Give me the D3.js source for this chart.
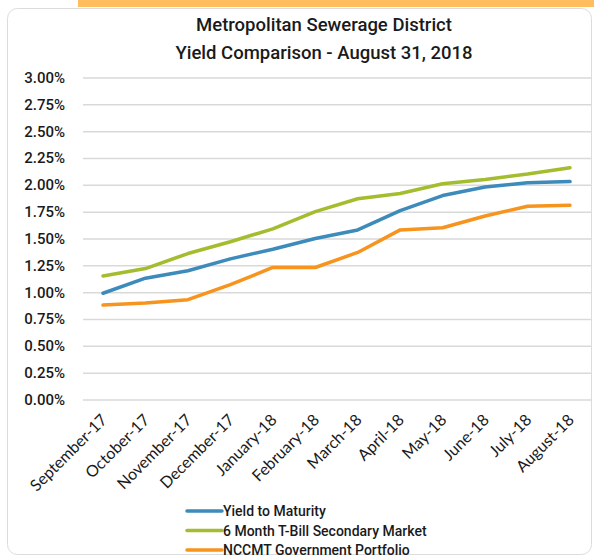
<!DOCTYPE html>
<html>
<head>
<meta charset="utf-8" />
<title>Yield Comparison</title>
<style>
  body { margin: 0; background: #fff; }
  svg text { font-family: Roboto, "Liberation Sans", sans-serif; fill: #1a1a1a; }
  .grid line { stroke: #d9d9d9; stroke-width: 1.5; }
  .grid path { display: none; }
</style>
</head>
<body>
<svg width="594" height="558"></svg>
<script src="https://cdn.jsdelivr.net/npm/d3@7"></script>
<script>

var months = ["September-17", "October-17", "November-17", "December-17", "January-18", "February-18",
              "March-18", "April-18", "May-18", "June-18", "July-18", "August-18"];

var yieldToMaturity = [0.99, 1.13, 1.20, 1.31, 1.40, 1.50, 1.58, 1.76, 1.90, 1.98, 2.02, 2.03];
var tBill6Month     = [1.15, 1.22, 1.36, 1.47, 1.59, 1.75, 1.87, 1.92, 2.01, 2.05, 2.10, 2.16];
var nccmtGov        = [0.88, 0.90, 0.93, 1.07, 1.23, 1.23, 1.37, 1.58, 1.60, 1.71, 1.80, 1.81];

var yTicks = [0, 0.25, 0.5, 0.75, 1, 1.25, 1.5, 1.75, 2, 2.25, 2.5, 2.75, 3];

var seriesNames = ["Yield to Maturity", "6 Month T-Bill Secondary Market", "NCCMT Government Portfolio"];
var seriesColors = ["#3d8bbb", "#a3bd2f", "#f7941d"];

var series = [yieldToMaturity, tBill6Month, nccmtGov].map(function(vals, i) {
  return { name: seriesNames[i], color: seriesColors[i], values: vals };
});

var svg = d3.select("svg");

// orange strip on top + card outline
svg.append("rect").attr("x", 78).attr("y", 0).attr("width", 516).attr("height", 7).attr("fill", "#ffbd5e");
svg.append("rect").attr("x", 7.5).attr("y", 8.5).attr("width", 584).attr("height", 546)
    .attr("rx", 10).attr("fill", "#fff").attr("stroke", "#dcdcdc").attr("stroke-width", 1);

var x = d3.scalePoint().domain(months).range([103, 570]),
    y = d3.scaleLinear().domain([0, 3]).range([399.5, 77.5]);

// title
svg.append("text").attr("x", 324).attr("y", 31).attr("text-anchor", "middle")
    .style("font-size", "18.5px").style("font-weight", 500).text("Metropolitan Sewerage District");
svg.append("text").attr("x", 324).attr("y", 59).attr("text-anchor", "middle")
    .style("font-size", "18.5px").style("font-weight", 500).text("Yield Comparison - August 31, 2018");

// gridlines
svg.append("g").attr("class", "grid")
    .attr("transform", "translate(83,0)")
    .call(d3.axisLeft(y).tickValues(yTicks).tickSize(-508).tickFormat(""));

// y labels
svg.append("g").selectAll("text")
  .data(yTicks)
  .enter().append("text")
    .attr("x", 65)
    .attr("y", function(d) { return y(d); })
    .attr("dy", "0.36em")
    .attr("text-anchor", "end")
    .style("font-size", "15px")
    .style("font-weight", 500)
    .text(function(d) { return d.toFixed(2) + "%"; });

// x labels
svg.append("g").selectAll("text")
  .data(months)
  .enter().append("text")
    .attr("transform", function(d) { return "translate(" + (x(d) + 5) + ",421) rotate(-45)"; })
    .attr("text-anchor", "end")
    .style("font-family", "Lato, sans-serif")
    .style("font-size", "16px")
    .text(function(d) { return d; });

// lines
var line = d3.line()
    .x(function(d, i) { return x(months[i]); })
    .y(function(d) { return y(d); });

svg.append("g").selectAll("path")
  .data(series)
  .enter().append("path")
    .attr("fill", "none")
    .attr("stroke", function(d) { return d.color; })
    .attr("stroke-width", 3.5)
    .attr("stroke-linejoin", "round")
    .attr("stroke-linecap", "round")
    .attr("d", function(d) { return line(d.values); });

// legend
var legend = svg.append("g").selectAll("g")
  .data(series)
  .enter().append("g")
    .attr("transform", function(d, i) { return "translate(187," + (511 + i * 19.5) + ")"; });

legend.append("line")
    .attr("x1", 0).attr("x2", 35)
    .attr("stroke", function(d) { return d.color; })
    .attr("stroke-width", 3.5)
    .attr("stroke-linecap", "round");

legend.append("text")
    .attr("x", 36)
    .attr("dy", "0.36em")
    .style("font-size", "14px")
    .style("font-weight", 500)
    .text(function(d) { return d.name; });

</script>
</body>
</html>
